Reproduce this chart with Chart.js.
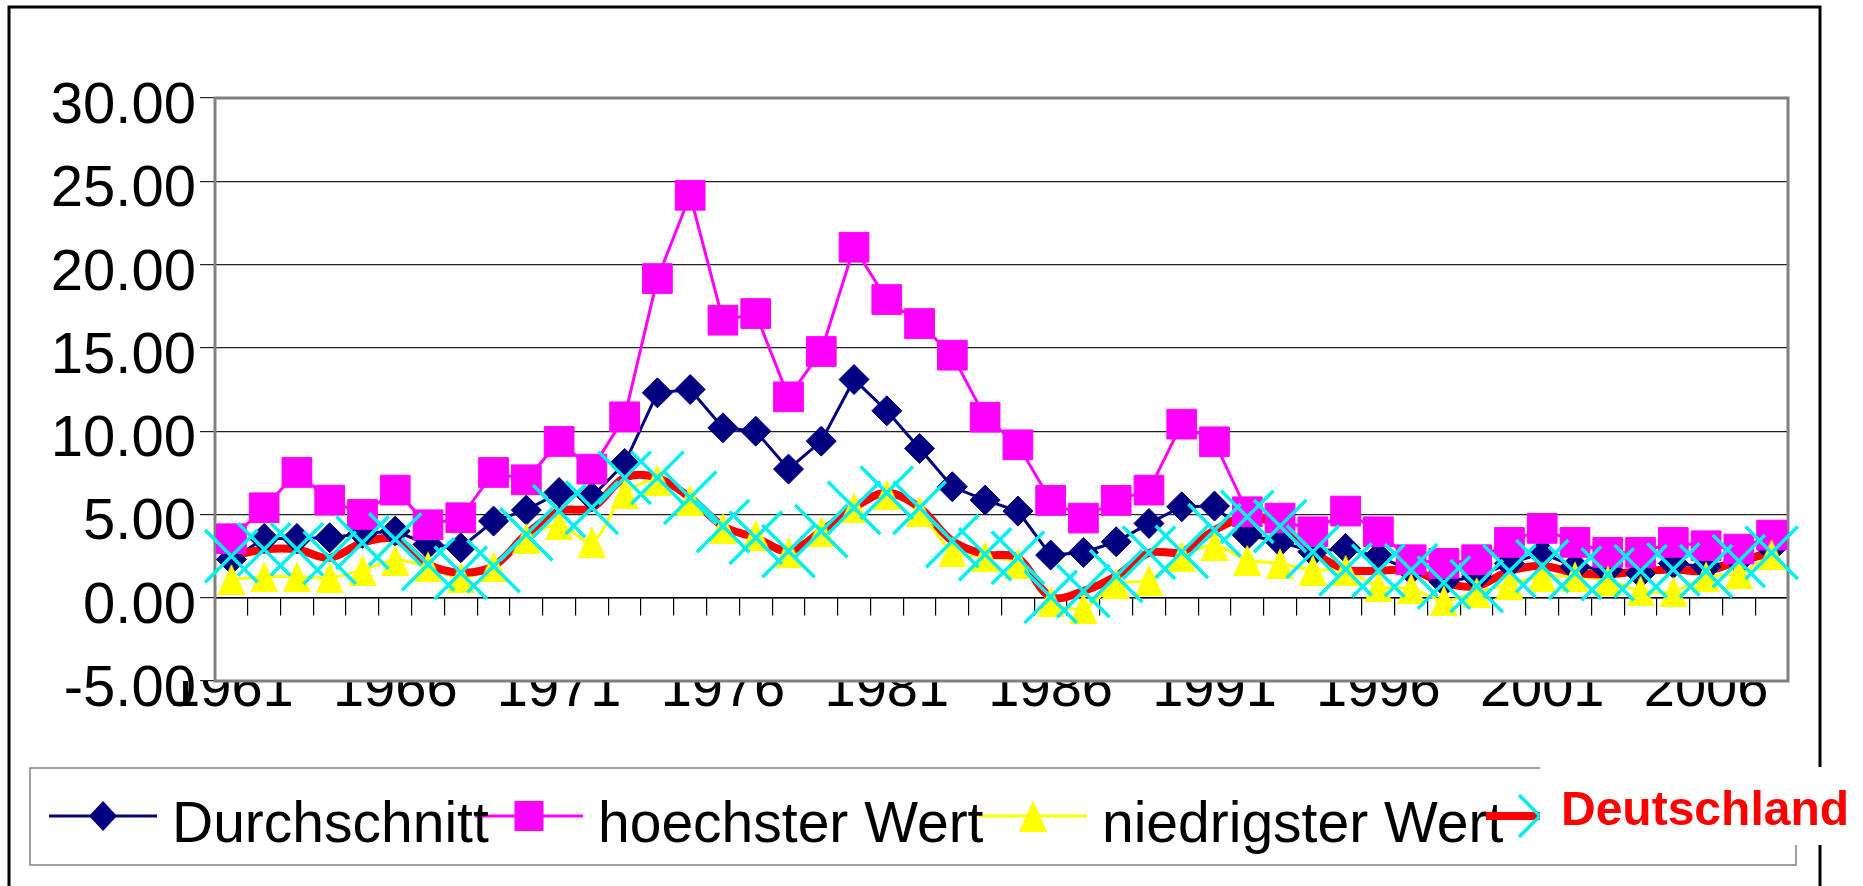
<!DOCTYPE html>
<html>
<head>
<meta charset="utf-8">
<script src="https://cdn.jsdelivr.net/npm/chart.js@4.4.0/dist/chart.umd.min.js"></script>
<style>
  html, body { margin: 0; padding: 0; background: #fff; }
  #wrap { width: 1863px; height: 886px; position: relative; }
</style>
</head>
<body>
<div id="wrap"><canvas id="chart" width="1863" height="886"></canvas></div>
<script>
// categories
const years = ["1961", "1962", "1963", "1964", "1965", "1966", "1967", "1968", "1969", "1970",
  "1971", "1972", "1973", "1974", "1975", "1976", "1977", "1978", "1979", "1980",
  "1981", "1982", "1983", "1984", "1985", "1986", "1987", "1988", "1989", "1990",
  "1991", "1992", "1993", "1994", "1995", "1996", "1997", "1998", "1999", "2000",
  "2001", "2002", "2003", "2004", "2005", "2006", "2007", "2008"];

// series values
const durchschnitt = [2.3, 3.56, 3.56, 3.6, 3.86, 4.0, 3.2, 3.0, 4.6, 5.26,
  6.32, 6.06, 8.06, 12.3, 12.5, 10.2, 10.0, 7.72, 9.4, 13.1,
  11.22, 8.96, 6.66, 5.86, 5.2, 2.56, 2.72, 3.36, 4.46, 5.46,
  5.5, 3.76, 3.36, 2.76, 2.96, 2.46, 1.66, 0.96, 1.26, 2.06,
  2.66, 1.86, 1.7, 1.46, 2.06, 1.86, 2.26, 2.96];
const hoechsterWert = [3.54, 5.4, 7.52, 5.86, 5.0, 6.46, 4.38, 4.8, 7.52, 7.08,
  9.38, 7.72, 10.86, 19.16, 24.16, 16.66, 17.06, 12.06, 14.78, 21.04,
  17.9, 16.46, 14.56, 10.84, 9.18, 5.84, 4.78, 5.84, 6.46, 10.42,
  9.36, 5.16, 4.78, 3.96, 5.2, 3.96, 2.28, 2.06, 2.28, 3.32,
  4.16, 3.32, 2.72, 2.72, 3.32, 3.12, 2.92, 3.76];
const niedrigsterWert = [1.1, 1.26, 1.26, 1.2, 1.66, 2.26, 1.86, 1.2, 1.86, 3.56,
  4.38, 3.34, 6.26, 7.06, 5.86, 4.16, 3.76, 2.7, 3.96, 5.4,
  6.18, 5.16, 2.76, 2.5, 2.06, -0.24, -0.64, 0.86, 1.06, 2.46,
  3.16, 2.26, 2.06, 1.66, 1.66, 0.66, 0.56, -0.18, 0.32, 0.82,
  1.26, 1.26, 1.02, 0.42, 0.36, 1.26, 1.46, 2.58];
const deutschland = [2.5, 2.9, 2.9, 2.4, 3.3, 3.5, 2.0, 1.5, 1.9, 3.8,
  5.2, 5.4, 7.2, 7.2, 6.0, 4.3, 3.6, 2.8, 4.0, 5.4,
  6.3, 5.4, 3.4, 2.6, 2.4, 0.05, 0.4, 1.3, 2.7, 2.75,
  4.05, 4.85, 4.3, 2.76, 1.7, 1.62, 1.66, 0.9, 0.7, 1.6,
  1.9, 1.5, 1.4, 1.6, 1.7, 1.6, 2.2, 2.7];

// axis
const yMin = -5;
const yMax = 30;
const yStep = 5;
const labelEvery = 5;

const FONT = "'Liberation Sans', Arial, sans-serif";
const NAVY = "#000080";
const MAGENTA = "#FF00FF";
const YELLOW = "#FFFF00";
const RED = "#FF0000";
const CYAN = "#00F0F0";

// Excel style triangle marker (a bit taller than wide)
function makeTriangle(w, h) {
  const c = document.createElement("canvas");
  c.width = w;
  c.height = h;
  const g = c.getContext("2d");
  g.fillStyle = YELLOW;
  g.beginPath();
  g.moveTo(w / 2, 0);
  g.lineTo(w, h);
  g.lineTo(0, h);
  g.closePath();
  g.fill();
  return c;
}
const triangle = makeTriangle(28, 31);

function lineSet(data, color, width, tension, order) {
  return {
    data: data,
    borderColor: color,
    borderWidth: width,
    pointRadius: 0,
    pointHoverRadius: 0,
    tension: tension,
    fill: false,
    order: order
  };
}

function markerSet(data, style, radius, color, border, order) {
  return {
    data: data,
    showLine: false,
    pointStyle: style,
    pointRadius: radius,
    backgroundColor: color,
    borderColor: color,
    borderWidth: border,
    clip: false,
    order: order
  };
}

// gray frame round the plot area
const plotFrame = {
  id: "plotFrame",
  beforeDatasetsDraw(chart) {
    const a = chart.chartArea;
    const ctx = chart.ctx;
    ctx.save();
    ctx.strokeStyle = "#808080";
    ctx.lineWidth = 3;
    ctx.strokeRect(a.left, a.top, a.right - a.left, a.bottom - a.top);
    ctx.restore();
  }
};

// outer border and legend, drawn the way the original has them
const frameAndLegend = {
  id: "frameAndLegend",
  beforeDraw(chart) {
    const ctx = chart.ctx;
    ctx.save();
    ctx.strokeStyle = "#000";
    ctx.lineWidth = 3;
    ctx.strokeRect(9, 7, 1811, 900);
    ctx.restore();
  },
  afterDraw(chart) {
    const ctx = chart.ctx;
    const ly = 816;
    ctx.save();
    ctx.fillStyle = "#fff";
    ctx.fillRect(30, 768, 1766, 97);
    ctx.strokeStyle = "#808080";
    ctx.lineWidth = 1.5;
    ctx.strokeRect(30, 768, 1766, 97);

    function seg(x1, x2, color, w) {
      ctx.strokeStyle = color;
      ctx.lineWidth = w;
      ctx.beginPath();
      ctx.moveTo(x1, ly);
      ctx.lineTo(x2, ly);
      ctx.stroke();
    }

    // Durchschnitt
    seg(49, 157, NAVY, 3);
    ctx.fillStyle = NAVY;
    ctx.beginPath();
    ctx.moveTo(103, ly - 15);
    ctx.lineTo(117, ly);
    ctx.lineTo(103, ly + 15);
    ctx.lineTo(89, ly);
    ctx.closePath();
    ctx.fill();

    // hoechster Wert
    seg(475, 583, MAGENTA, 3);
    ctx.fillStyle = MAGENTA;
    ctx.fillRect(529 - 14.5, ly - 15, 29, 30);

    // niedrigster Wert
    seg(979, 1087, YELLOW, 3);
    ctx.drawImage(triangle, 1033 - 14, ly - 15.5);

    ctx.font = "57px " + FONT;
    ctx.fillStyle = "#000";
    ctx.textBaseline = "alphabetic";
    ctx.fillText("Durchschnitt", 172, 842);
    ctx.fillText("hoechster Wert", 598, 842);
    ctx.fillText("niedrigster Wert", 1102, 842);

    // Deutschland
    seg(1486, 1594, RED, 8);
    ctx.strokeStyle = CYAN;
    ctx.lineWidth = 3.5;
    ctx.beginPath();
    ctx.moveTo(1519, ly - 21);
    ctx.lineTo(1561, ly + 21);
    ctx.moveTo(1519, ly + 21);
    ctx.lineTo(1561, ly - 21);
    ctx.stroke();

    ctx.fillStyle = "#fff";
    ctx.fillRect(1540, 767, 323, 78);
    ctx.font = "bold 48px " + FONT;
    ctx.fillStyle = RED;
    ctx.fillText("Deutschland", 1561, 825);
    ctx.restore();
  }
};

new Chart(document.getElementById("chart"), {
  type: "line",
  data: {
    labels: years,
    datasets: [
      lineSet(durchschnitt, NAVY, 3, 0, 8),
      lineSet(hoechsterWert, MAGENTA, 3, 0, 7),
      lineSet(niedrigsterWert, YELLOW, 3, 0.3, 6),
      lineSet(deutschland, RED, 8, 0.35, 5),
      markerSet(durchschnitt, "rectRot", 15, NAVY, 1, 4),
      markerSet(hoechsterWert, "rect", 21, MAGENTA, 1, 3),
      markerSet(niedrigsterWert, triangle, 15, YELLOW, 1, 2),
      markerSet(deutschland, "crossRot", 37, CYAN, 3.5, 1)
    ]
  },
  options: {
    responsive: false,
    animation: false,
    devicePixelRatio: 1,
    layout: { padding: { left: 0, top: 98, right: 75, bottom: 165 } },
    plugins: {
      legend: { display: false },
      tooltip: { enabled: false }
    },
    scales: {
      x: {
        type: "category",
        position: { y: 0 },
        offset: true,
        grid: {
          display: true,
          drawOnChartArea: false,
          drawTicks: true,
          tickLength: 17,
          offset: true,
          color: "#000",
          lineWidth: 1.2
        },
        border: { display: true, color: "#000", width: 1.5 },
        ticks: { display: false }
      },
      x2: {
        type: "category",
        labels: years,
        position: "bottom",
        offset: true,
        grid: { display: false, drawTicks: false },
        border: { display: false },
        ticks: {
          autoSkip: false,
          maxRotation: 0,
          minRotation: 0,
          padding: -24,
          color: "#000",
          font: { family: FONT, size: 56 },
          callback: (v, i) => (i % labelEvery === 0 ? years[i] : "")
        },
        afterFit: s => { s.height = 40; }
      },
      y: {
        min: yMin,
        max: yMax,
        border: { display: false },
        grid: {
          color: "#222",
          lineWidth: 1.2,
          drawTicks: true,
          tickLength: 15
        },
        ticks: {
          stepSize: yStep,
          padding: 4,
          labelOffset: 9,
          color: "#000",
          font: { family: FONT, size: 58 },
          callback: v => v.toFixed(2)
        },
        afterFit: s => { s.width = 215; }
      }
    }
  },
  plugins: [frameAndLegend, plotFrame]
});
</script>
</body>
</html>
